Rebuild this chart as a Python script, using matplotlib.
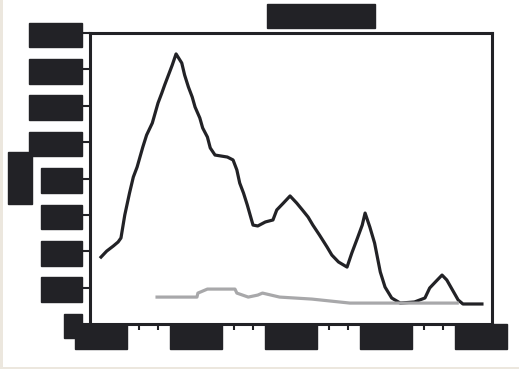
import numpy as np
import matplotlib
matplotlib.use("Agg")
import matplotlib.pyplot as plt
from matplotlib.patches import Rectangle

# values (text in the reference is blacked out)
year_main = [1980.0, 1980.6, 1981.3, 1981.8, 1982.1, 1982.5, 1983.0, 1983.4, 1983.8,
             1984.1, 1984.4, 1984.8, 1985.4, 1985.7, 1986.0, 1986.4, 1986.7, 1987.1,
             1987.5, 1987.9, 1988.5, 1988.8, 1989.2, 1989.6, 1989.9, 1990.4, 1990.7,
             1991.2, 1991.5, 1992.0, 1993.3, 1993.9, 1994.3, 1994.6, 1995.0, 1995.4,
             1995.7, 1996.0, 1996.5, 1997.3, 1998.1, 1998.5, 1999.2, 1999.9, 2000.6,
             2001.2, 2001.8, 2002.3, 2003.0, 2003.8, 2004.3, 2005.0, 2005.9, 2006.4,
             2007.0, 2007.5, 2007.8, 2008.3, 2008.8, 2009.4, 2009.9, 2010.6, 2011.5,
             2013.0, 2014.1, 2014.6, 2015.4, 2015.9, 2016.4, 2017.0, 2017.6, 2018.1,
             2020.1]
val_main = [368, 401, 429, 451, 473, 599, 720, 808, 863,
            918, 973, 1039, 1105, 1160, 1215, 1270, 1314, 1369,
            1424, 1485, 1435, 1369, 1303, 1248, 1193, 1133, 1078,
            1028, 968, 929, 918, 902, 847, 775, 720, 654,
            599, 544, 539, 561, 572, 627, 665, 704, 665,
            627, 588, 544, 489, 423, 379, 341, 313, 390,
            473, 544, 610, 533, 445, 286, 203, 143, 115,
            121, 143, 198, 242, 269, 242, 187, 132, 110,
            110]

year_base = [1985.9, 1990.1, 1990.2, 1991.2, 1994.1, 1994.3, 1995.5, 1996.5,
             1997.0, 1998.8, 2002.2, 2006.2, 2011.3, 2017.5]
val_base = [148, 148, 170, 192, 192, 170, 148, 159,
            170, 148, 137, 115, 115, 115]

yticks = list(range(0, 1601, 200))
xticks = [1980, 1990, 2000, 2010, 2020]
xminor = [1984, 1986, 1994, 1996, 2004, 2006, 2014, 2016]

ink = '#222226'
box = dict(boxstyle='square,pad=0.2', fc=ink, ec=ink)

fig = plt.figure(figsize=(5.19, 3.69), dpi=100)
fig.patch.set_facecolor('white')
# faint paper edge on left and bottom
fig.patches.append(Rectangle((0, 0), 3/519, 1, transform=fig.transFigure,
                             fc='#ece7de', ec='none'))
fig.patches.append(Rectangle((0, 0), 1, 2.5/369, transform=fig.transFigure,
                             fc='#ece7de', ec='none'))

ax = fig.add_axes([90/519, 1-324/369, 402/519, 291/369])

ax.plot(year_main, val_main, color=ink, lw=2.3)
ax.plot(year_base, val_base, color='#a8a8aa', lw=2.3)

ax.set_xlim(1978.84, 2021.16)
ax.set_ylim(0, 1600)

for s in ax.spines.values():
    s.set_linewidth(2.2)
    s.set_color(ink)

ax.set_yticks(yticks)
ax.set_xticks(xticks)
ax.set_xticks(xminor, minor=True)
ax.tick_params(axis='y', direction='out', length=5.8, width=1.5, color=ink, pad=2.4)
ax.tick_params(axis='x', which='major', length=0, pad=2.6)
ax.tick_params(axis='x', which='minor', direction='out', length=4.3, width=1.5, color=ink)

for lab in ax.get_yticklabels() + ax.get_xticklabels():
    lab.set_color(ink)
    lab.set_fontsize(12)
    lab.set_fontweight('bold')
    lab.set_bbox(box)

fig.text(321/519, 1-16/369, 'Production', ha='center', va='center', fontsize=12,
         fontweight='bold', color=ink, bbox=box)
fig.text(20/519, 1-178/369, 'Total', ha='center', va='center', rotation=90,
         fontsize=12, fontweight='bold', color=ink, bbox=box)

fig.savefig('out.png', dpi=100)
